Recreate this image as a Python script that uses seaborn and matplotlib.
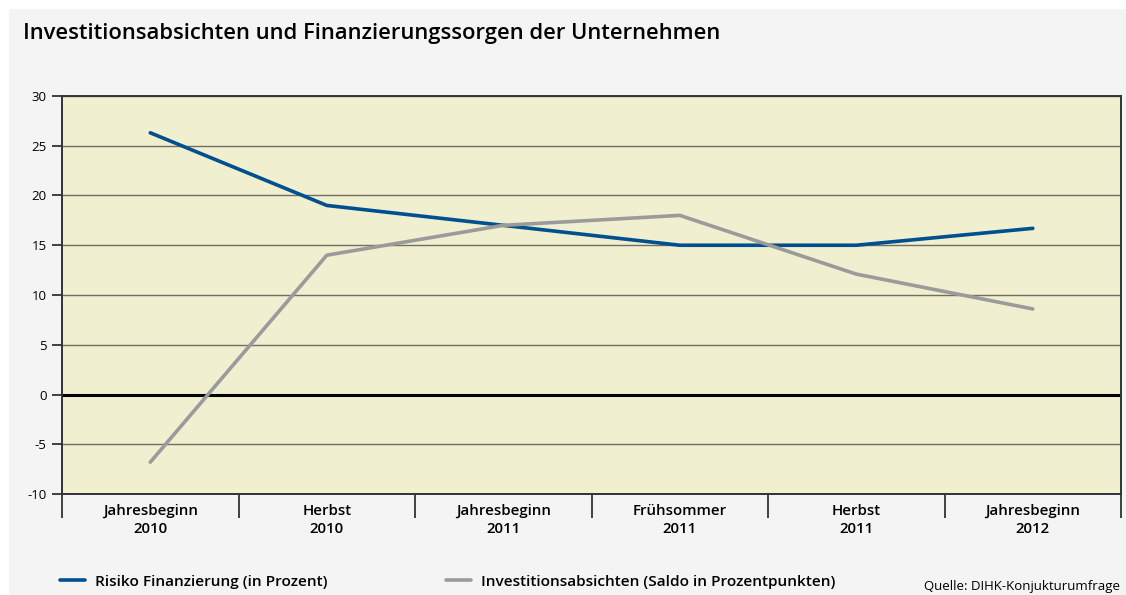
import seaborn as sns
import matplotlib.pyplot as plt
import pandas as pd
from matplotlib.patches import Rectangle
from matplotlib.ticker import FixedLocator

# data
periods = ["Jahresbeginn\n2010", "Herbst\n2010", "Jahresbeginn\n2011",
           "Frühsommer\n2011", "Herbst\n2011", "Jahresbeginn\n2012"]
risiko = [26.3, 19.0, 17.0, 15.0, 15.0, 16.7]
invest = [-6.8, 14.0, 17.0, 18.0, 12.1, 8.6]
series_names = ["Risiko Finanzierung (in Prozent)",
                "Investitionsabsichten (Saldo in Prozentpunkten)"]
yticks = [-10, -5, 0, 5, 10, 15, 20, 25, 30]

df = pd.DataFrame({
    "Zeitpunkt": periods * 2,
    "Wert": risiko + invest,
    "Reihe": [series_names[0]] * len(periods) + [series_names[1]] * len(periods),
})

sns.set_theme(style="ticks")
plt.rcParams["font.family"] = ["Open Sans", "DejaVu Sans"]
plt.rcParams["axes.unicode_minus"] = False
plt.rcParams["text.color"] = "black"
plt.rcParams["xtick.color"] = "black"
plt.rcParams["ytick.color"] = "black"

fig = plt.figure(figsize=(11.26, 5.95), dpi=100, facecolor="#f4f4f4")
# white strip on top/left like the cropped original
fig.patches.append(Rectangle((0, 0.9866), 1, 0.0134, transform=fig.transFigure,
                             color="white", zorder=-1))
fig.patches.append(Rectangle((0, 0), 0.007, 1, transform=fig.transFigure,
                             color="white", zorder=-1))

ax = fig.add_axes([0.0551, 0.1697, 0.9405, 0.669])
ax.set_facecolor("#f0efd0")

pal = {series_names[0]: "#004f8e", series_names[1]: "#9b9b9b"}
sns.lineplot(data=df, x="Zeitpunkt", y="Wert", hue="Reihe", palette=pal,
             sort=False, linewidth=2.6, ax=ax, legend=True, zorder=3)

ax.set_xlim(-0.5, len(periods) - 0.5)
ax.set_ylim(-10, 30)
ax.set_yticks(yticks)
ax.set_xlabel("")
ax.set_ylabel("")
ax.yaxis.grid(True, color="#6f6f62", linewidth=1)
ax.axhline(0, color="black", linewidth=2.2, zorder=2)

ax.set_xticks(range(len(periods)))
ax.set_xticklabels(periods, fontsize=10.8, fontweight="semibold", linespacing=1.35)
ax.xaxis.set_minor_locator(FixedLocator([i - 0.5 for i in range(len(periods) + 1)]))
ax.tick_params(axis="x", which="major", length=0, pad=7)
ax.tick_params(axis="x", which="minor", length=17, width=1.2, color="#222222")
ax.tick_params(axis="y", length=7, width=1.2, labelsize=9.5, pad=4, color="#222222")

for side in ["left", "bottom", "top", "right"]:
    ax.spines[side].set_linewidth(1.4)
    ax.spines[side].set_color("#333333")

handles, labels = ax.get_legend_handles_labels()
ax.get_legend().remove()
leg = fig.legend(handles, labels, loc="lower left", bbox_to_anchor=(0.041, -0.013),
                 ncol=2, frameon=False, handlelength=1.6, handletextpad=0.65,
                 columnspacing=7.7, prop={"size": 11.1, "weight": "semibold"})

fig.text(0.02, 0.935, "Investitionsabsichten und Finanzierungssorgen der Unternehmen",
         fontsize=15.8, fontweight="semibold", ha="left", va="baseline", color="black")
fig.text(0.995, 0.008, "Quelle: DIHK-Konjukturumfrage", fontsize=9.5,
         ha="right", va="baseline")

fig.savefig("out.png", dpi=100, facecolor=fig.get_facecolor())
